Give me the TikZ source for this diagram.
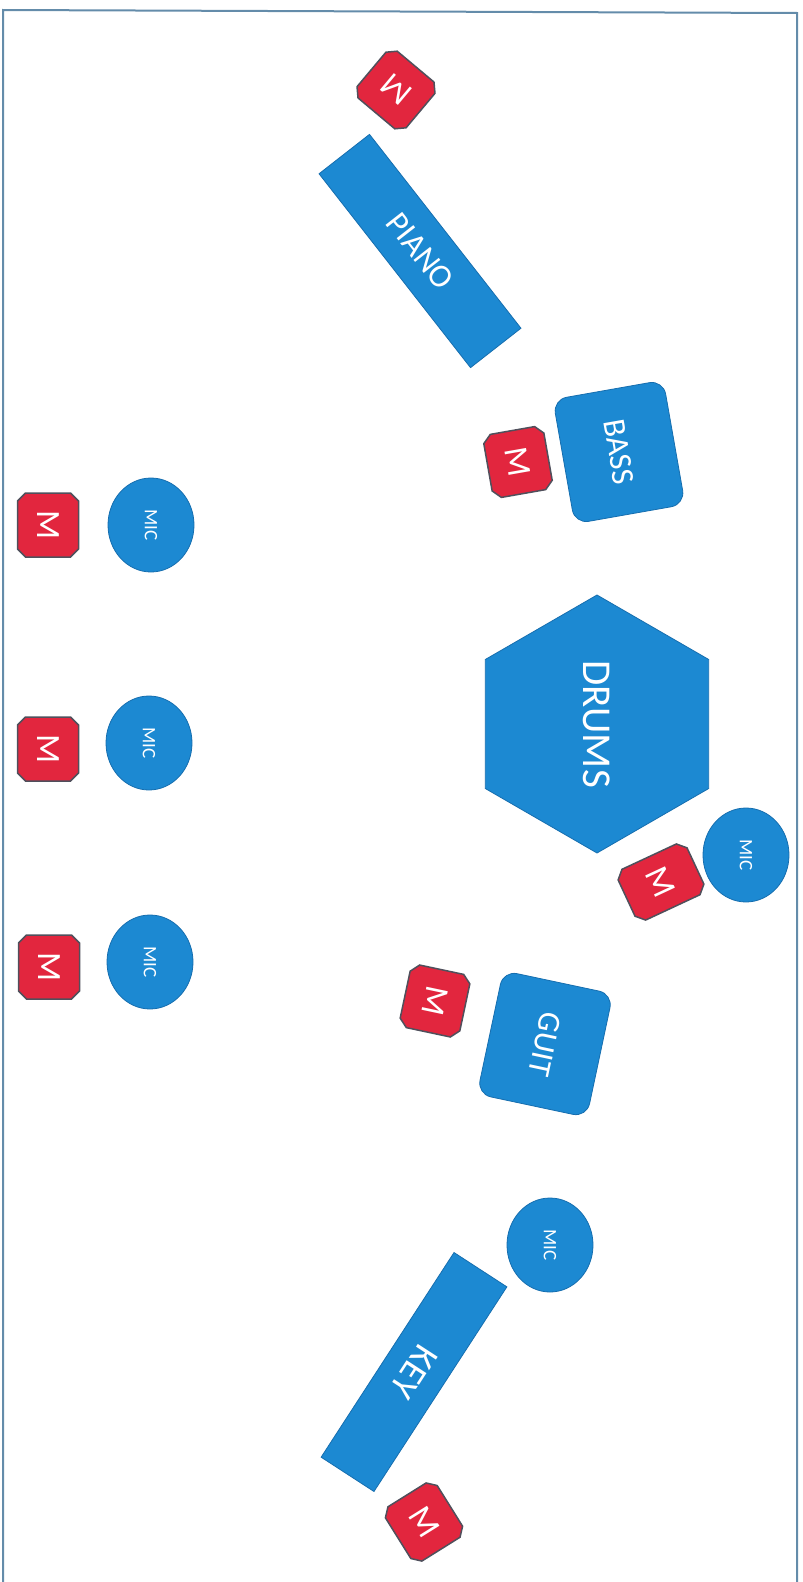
\documentclass[tikz,border=0pt]{standalone}
\usepackage{fontspec}
\setmainfont{Carlito}
\usetikzlibrary{shapes.geometric,shapes.misc}
\definecolor{stageblue}{RGB}{28,137,210}
\definecolor{stageblueline}{RGB}{22,110,175}
\definecolor{monred}{RGB}{226,38,62}
\definecolor{monline}{RGB}{80,80,92}
\definecolor{framecol}{RGB}{100,140,170}
\begin{document}
\begin{tikzpicture}[x=1pt,y=-1pt,
  inst/.style={fill=stageblue,draw=stageblueline,line width=0.8pt,text=white,inner sep=0pt},
  monitor/.style={chamfered rectangle, chamfered rectangle xsep=4pt, chamfered rectangle ysep=4pt,
    fill=monred, draw=monline, line width=1.5pt, text=white, inner sep=0pt,
    minimum width=64pt, minimum height=61pt, font=\fontsize{34}{34}\selectfont},
  micnode/.style={inst, ellipse, minimum width=94pt, minimum height=86pt, font=\fontsize{19}{19}\selectfont},
  bigtext/.style={font=\fontsize{32}{32}\selectfont}
]
\useasboundingbox (0,0) rectangle (803,1582);
\draw[framecol, line width=2pt] (3,1582) -- (3,10) -- (797,13) -- (797,1582);

% piano
\node[monitor, rotate=140] (mpiano) at (396,90) {M};
\node[inst, font=\fontsize{33}{33}\selectfont, minimum width=246pt, minimum height=64pt, rotate=-52] (piano) at (420,251) {PIANO};
% bass
\node[inst, bigtext, rounded corners=14pt, minimum width=126pt, minimum height=112pt, rotate=-80] (bass) at (619,452) {BASS};
\node[monitor, rotate=-80] (mbass) at (518,462) {M};
% drums
\node[inst, regular polygon, regular polygon sides=6, minimum size=258pt, rotate=-90, font=\fontsize{41}{41}\selectfont] (drums) at (597,724) {DRUMS};
\node[micnode, rotate=-90] (micdrums) at (746,855) {MIC};
\node[monitor, rotate=-65, minimum width=56pt, minimum height=76pt] (mdrums) at (661,882) {M};
% guitar
\node[inst, bigtext, rounded corners=14pt, minimum width=126pt, minimum height=112pt, rotate=-102] (guit) at (545,1044) {GUIT};
\node[monitor, rotate=-102] (mguit) at (435,1001) {M};
% keys
\node[micnode, rotate=-90] (mickey) at (550,1245) {MIC};
\node[inst, font=\fontsize{37}{37}\selectfont, minimum width=244pt, minimum height=63pt, rotate=-123] (key) at (414,1372) {KEY};
\node[monitor, rotate=-58] (mkey) at (424,1522) {M};
% front line
\node[micnode, rotate=-90] (mic1) at (151,525) {MIC};
\node[monitor, rotate=-90] (mon1) at (48,525) {M};
\node[micnode, rotate=-90] (mic2) at (149,743) {MIC};
\node[monitor, rotate=-90] (mon2) at (48,749) {M};
\node[micnode, rotate=-90] (mic3) at (150,962) {MIC};
\node[monitor, rotate=-90] (mon3) at (49,967) {M};
\end{tikzpicture}
\end{document}
